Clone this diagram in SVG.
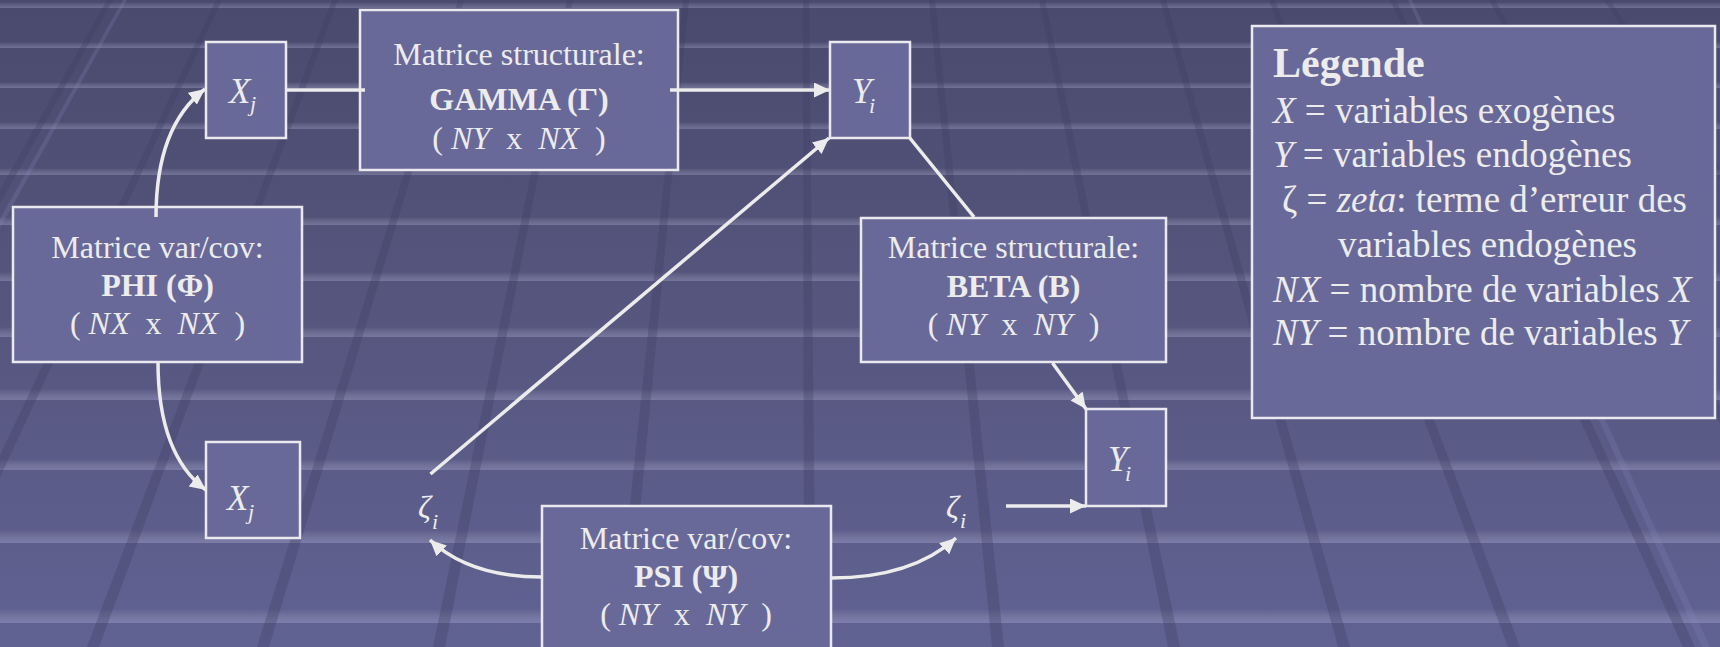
<svg xmlns="http://www.w3.org/2000/svg" width="1720" height="647" viewBox="0 0 1720 647">
<defs>
<linearGradient id="bg" x1="0" y1="0" x2="0" y2="1">
<stop offset="0" stop-color="#4a4a6e"/>
<stop offset="0.5" stop-color="#56567f"/>
<stop offset="1" stop-color="#606292"/>
</linearGradient>
<linearGradient id="band" x1="0" y1="0" x2="0" y2="1">
<stop offset="0" stop-color="#ffffff" stop-opacity="0"/>
<stop offset="1" stop-color="#c8c8f0" stop-opacity="0.28"/>
</linearGradient>
<marker id="ah" markerUnits="userSpaceOnUse" markerWidth="18" markerHeight="16" refX="16" refY="7.5" orient="auto">
<path d="M0,0 L16,7.5 L0,15 z" fill="#ececec"/>
</marker>
<style>
.box{fill:#696999;stroke:#e9e9ef;stroke-width:2.5}
.t{font-family:"Liberation Serif","Times New Roman",serif;fill:#ececec}
.c{text-anchor:middle;font-size:32px}
.b{font-weight:bold}
.i{font-style:italic}
.v{font-size:35px;font-style:italic}
.s{font-size:22px;font-style:italic}
.lg{font-size:37px}
.con{fill:none;stroke:#ececec;stroke-width:3.5}
.dk{fill:#3e3e64;fill-opacity:0.32}
.lt{fill:#8a8ac0;fill-opacity:0.22}
</style>
</defs>
<g id="background">
<rect x="0" y="0" width="1720" height="647" fill="url(#bg)"/>
<rect x="0" y="2" width="1720" height="6" fill="url(#band)"/>
<rect x="0" y="42" width="1720" height="6" fill="url(#band)"/>
<rect x="0" y="82" width="1720" height="6" fill="url(#band)"/>
<rect x="0" y="122" width="1720" height="7" fill="url(#band)"/>
<rect x="0" y="168" width="1720" height="7" fill="url(#band)"/>
<rect x="0" y="217" width="1720" height="8" fill="url(#band)"/>
<rect x="0" y="272" width="1720" height="9" fill="url(#band)"/>
<rect x="0" y="327" width="1720" height="10" fill="url(#band)"/>
<rect x="0" y="389" width="1720" height="11" fill="url(#band)"/>
<rect x="0" y="459" width="1720" height="11" fill="url(#band)"/>
<rect x="0" y="530" width="1720" height="13" fill="url(#band)"/>
<rect x="0" y="609" width="1720" height="14" fill="url(#band)"/>
<g class="dk">
<polygon points="107,0 113,0 -246,647 -258,647"/>
<polygon points="216,0 222,0 -79,647 -91,647"/>
<polygon points="332,0 338,0 99,647 87,647"/>
<polygon points="458,0 464,0 269,647 257,647"/>
<polygon points="567,0 573,0 445,647 433,647"/>
<polygon points="683,0 689,0 627,647 615,647"/>
<polygon points="803,0 809,0 816,647 804,647"/>
<polygon points="929,0 935,0 1004,647 992,647"/>
<polygon points="1039,0 1045,0 1180,647 1168,647"/>
<polygon points="1160,0 1166,0 1350,647 1338,647"/>
<polygon points="1269,0 1275,0 1520,647 1508,647"/>
<polygon points="1390,0 1396,0 1695,647 1683,647"/>
<polygon points="1489,0 1495,0 1854,647 1842,647"/>
<polygon points="1604,0 1610,0 2033,647 2021,647"/>
</g>
<g class="lt">
<polygon points="123,0 127,0 -233,647 -241,647"/>
<polygon points="1408,0 1412,0 1710,647 1702,647"/>
</g>
</g>
<g id="node-xj-top">
<rect class="box" x="206" y="42" width="80" height="96"/>
<text class="t v" x="229" y="103">X</text><text class="t s" x="250" y="111">j</text>
</g>
<g id="node-gamma">
<rect class="box" x="360" y="10" width="318" height="160"/>
<text class="t c" x="519" y="65">Matrice structurale:</text>
<text class="t c b" x="519" y="110">GAMMA (Γ)</text>
<text class="t c" x="519" y="149" xml:space="preserve">( <tspan class="i">NY</tspan>  x  <tspan class="i">NX</tspan>  )</text>
</g>
<g id="node-yi-top">
<rect class="box" x="830" y="42" width="80" height="96"/>
<text class="t v" x="852" y="103">Y</text><text class="t s" x="869" y="113">i</text>
</g>
<g id="node-phi">
<rect class="box" x="13" y="207" width="289" height="155"/>
<text class="t c" x="157.5" y="258">Matrice var/cov:</text>
<text class="t c b" x="157.5" y="296">PHI (Φ)</text>
<text class="t c" x="157.5" y="334" xml:space="preserve">( <tspan class="i">NX</tspan>  x  <tspan class="i">NX</tspan>  )</text>
</g>
<g id="node-xj-bottom">
<rect class="box" x="206" y="442" width="94" height="96"/>
<text class="t v" x="227" y="510">X</text><text class="t s" x="248" y="519">j</text>
</g>
<g id="node-zeta-left">
<text class="t i" style="font-size:32px" x="418" y="518">ζ</text><text class="t s" x="432" y="529">i</text>
</g>
<g id="node-psi">
<rect class="box" x="542" y="506" width="289" height="160"/>
<text class="t c" x="686" y="549">Matrice var/cov:</text>
<text class="t c b" x="686" y="587">PSI (Ψ)</text>
<text class="t c" x="686" y="625" xml:space="preserve">( <tspan class="i">NY</tspan>  x  <tspan class="i">NY</tspan>  )</text>
</g>
<g id="node-zeta-right">
<text class="t i" style="font-size:32px" x="946" y="518">ζ</text><text class="t s" x="960" y="528">i</text>
</g>
<g id="node-beta">
<rect class="box" x="861" y="218" width="305" height="144"/>
<text class="t c" x="1013.5" y="258">Matrice structurale:</text>
<text class="t c b" x="1013.5" y="297">BETA (B)</text>
<text class="t c" x="1013.5" y="335" xml:space="preserve">( <tspan class="i">NY</tspan>  x  <tspan class="i">NY</tspan>  )</text>
</g>
<g id="node-yi-bottom">
<rect class="box" x="1086" y="409" width="80" height="97"/>
<text class="t v" x="1108" y="471">Y</text><text class="t s" x="1125" y="481">i</text>
</g>
<g id="legend">
<rect class="box" x="1252" y="26" width="463" height="392"/>
<text class="t b" style="font-size:42px" x="1273" y="77">Légende</text>
<text class="t lg" x="1273" y="123"><tspan class="i">X</tspan> = variables exogènes</text>
<text class="t lg" x="1273" y="167"><tspan class="i">Y</tspan> = variables endogènes</text>
<text class="t lg" x="1282" y="212">ζ = <tspan class="i">zeta</tspan>: terme d’erreur des</text>
<text class="t lg" x="1338" y="257">variables endogènes</text>
<text class="t lg" x="1273" y="302"><tspan class="i">NX</tspan> = nombre de variables <tspan class="i">X</tspan></text>
<text class="t lg" x="1273" y="345"><tspan class="i">NY</tspan> = nombre de variables <tspan class="i">Y</tspan></text>
</g>
<g id="connectors">
<path class="con" d="M156,217 C156,145 180,108 205,89" marker-end="url(#ah)"/>
<path class="con" d="M158,362 C158,420 172,465 206,490" marker-end="url(#ah)"/>
<line class="con" x1="286" y1="90" x2="365" y2="90"/>
<line class="con" x1="670" y1="90" x2="830" y2="90" marker-end="url(#ah)"/>
<line class="con" x1="430.5" y1="474" x2="829" y2="138" marker-end="url(#ah)"/>
<line class="con" x1="909" y1="137" x2="974" y2="217"/>
<line class="con" x1="1052.5" y1="363" x2="1086" y2="409" marker-end="url(#ah)"/>
<line class="con" x1="1006" y1="506" x2="1086" y2="506" marker-end="url(#ah)"/>
<path class="con" d="M542,577 C500,577 460,568 430,540" marker-end="url(#ah)"/>
<path class="con" d="M831,578 C880,578 925,566 956,538" marker-end="url(#ah)"/>
</g>
</svg>
